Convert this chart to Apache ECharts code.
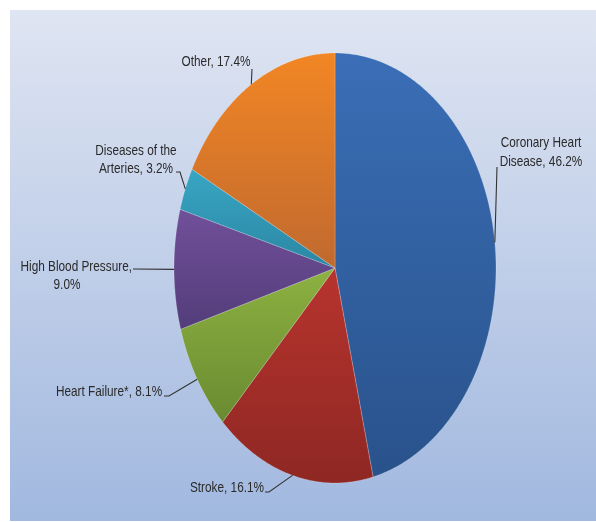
<!DOCTYPE html>
<html>
<head>
<meta charset="utf-8">
<script src="https://cdn.jsdelivr.net/npm/echarts@6/dist/echarts.min.js"></script>
<style>
html,body{margin:0;padding:0;background:#fff;}
#chart{width:596px;height:522px;}
</style>
</head>
<body>
<div id="chart"></div>
<script>
// ---- data ----
var categories = ["Coronary Heart Disease", "Stroke", "Heart Failure*", "High Blood Pressure", "Diseases of the Arteries", "Other"];
var values = [46.2, 16.1, 8.1, 9.0, 3.2, 17.4];

// ---- styles / layout (not data) ----
var sliceColors = [
  ["#3a6eb6", "#29528b"],
  ["#b8342e", "#8e2723"],
  ["#8db141", "#6a8a31"],
  ["#71509a", "#533d7a"],
  ["#38a6c4", "#2b87a3"],
  ["#f28624", "#c0692f"]
];
var pie = {cx: 335, cy: 268, rx: 161, ry: 215};
var labelLayout = [
  {breakAfter: 2, line: [[497, 167]], texts: [[541, 143, "center"], [541, 162, "center"]]},
  {breakAfter: 0, line: [[269, 492], [265, 492]], texts: [[227, 488, "center"]]},
  {breakAfter: 0, line: [[169, 396], [164, 396]], texts: [[109, 392, "center"]]},
  {breakAfter: 3, line: [[133, 269]], texts: [[132, 267, "right"], [67, 285, "center"]]},
  {breakAfter: 3, line: [[180, 172], [176, 172]], texts: [[136, 151, "center"], [136, 169, "center"]]},
  {breakAfter: 0, line: [[252, 69]], texts: [[216, 62, "center"]]}
];

// font detection (narrow face)
var fontFamily = '"Liberation Sans Narrow", "Arial Narrow", "Liberation Sans", Arial, sans-serif';
var textScaleX = 1;
(function(){
  var c = document.createElement('canvas').getContext('2d');
  c.font = '14px "Liberation Sans Narrow", monospace';
  var w1 = c.measureText('Coronary Heart').width;
  c.font = '14px "Liberation Sans", monospace';
  var w2 = c.measureText('Coronary Heart').width;
  if (w1 / w2 > 0.92) { fontFamily = '"Liberation Sans", Arial, sans-serif'; textScaleX = 0.82; }
})();

var total = values.reduce(function(a, b){ return a + b; }, 0);
var cumStart = [];
(function(){ var s = 0; for (var i = 0; i < values.length; i++) { cumStart.push(s); s += values[i]; } })();

function ept(t) {
  return [pie.cx + pie.rx * Math.sin(t), pie.cy - pie.ry * Math.cos(t)];
}

function labelText(i) {
  var txt = categories[i] + ', ' + values[i].toFixed(1) + '%';
  var b = labelLayout[i].breakAfter;
  if (!b) return [txt];
  var words = txt.split(' ');
  return [words.slice(0, b).join(' '), words.slice(b).join(' ')];
}

function renderItem(params, api) {
  var i = params.dataIndex;
  var v = api.value(1);
  var a0 = cumStart[i] / total * Math.PI * 2;
  var a1 = (cumStart[i] + v) / total * Math.PI * 2;
  var pts = [[pie.cx, pie.cy]];
  var n = Math.max(4, Math.ceil((a1 - a0) / (Math.PI / 360)));
  for (var k = 0; k <= n; k++) pts.push(ept(a0 + (a1 - a0) * k / n));
  var children = [{
    type: 'polygon',
    shape: {points: pts},
    style: {
      fill: new echarts.graphic.LinearGradient(0, 0, 0, 1, [
        {offset: 0, color: sliceColors[i][0]},
        {offset: 1, color: sliceColors[i][1]}
      ]),
      stroke: 'rgba(255,255,255,0.35)',
      lineWidth: 0.6
    }
  }];
  var mid = ept((a0 + a1) / 2);
  var lay = labelLayout[i];
  children.push({
    type: 'polyline',
    shape: {points: [mid].concat(lay.line)},
    style: {stroke: '#333333', lineWidth: 1.1, fill: null},
    z2: 10
  });
  var lines = labelText(i);
  for (var j = 0; j < lines.length; j++) {
    var t = lay.texts[j];
    children.push({
      type: 'text',
      x: t[0], y: t[1], scaleX: textScaleX,
      style: {
        text: lines[j], x: 0, y: 0,
        textAlign: t[2], textVerticalAlign: 'middle',
        font: '14.4px ' + fontFamily,
        fill: '#2a2a2a'
      },
      z2: 10
    });
  }
  return {type: 'group', children: children};
}

var chart = echarts.init(document.getElementById('chart'), null, {renderer: 'canvas'});
chart.setOption({
  animation: false,
  backgroundColor: '#ffffff',
  graphic: [{
    type: 'rect', left: 10, top: 10, z: -10,
    shape: {width: 586, height: 511},
    style: {
      fill: new echarts.graphic.LinearGradient(0, 0, 0, 1, [
        {offset: 0, color: '#dfe5f2'},
        {offset: 1, color: '#a1b8df'}
      ])
    }
  }],
  series: [{
    type: 'custom',
    coordinateSystem: 'none',
    renderItem: renderItem,
    data: values.map(function(v, i){ return [i, v]; })
  }]
});
</script>
</body>
</html>
